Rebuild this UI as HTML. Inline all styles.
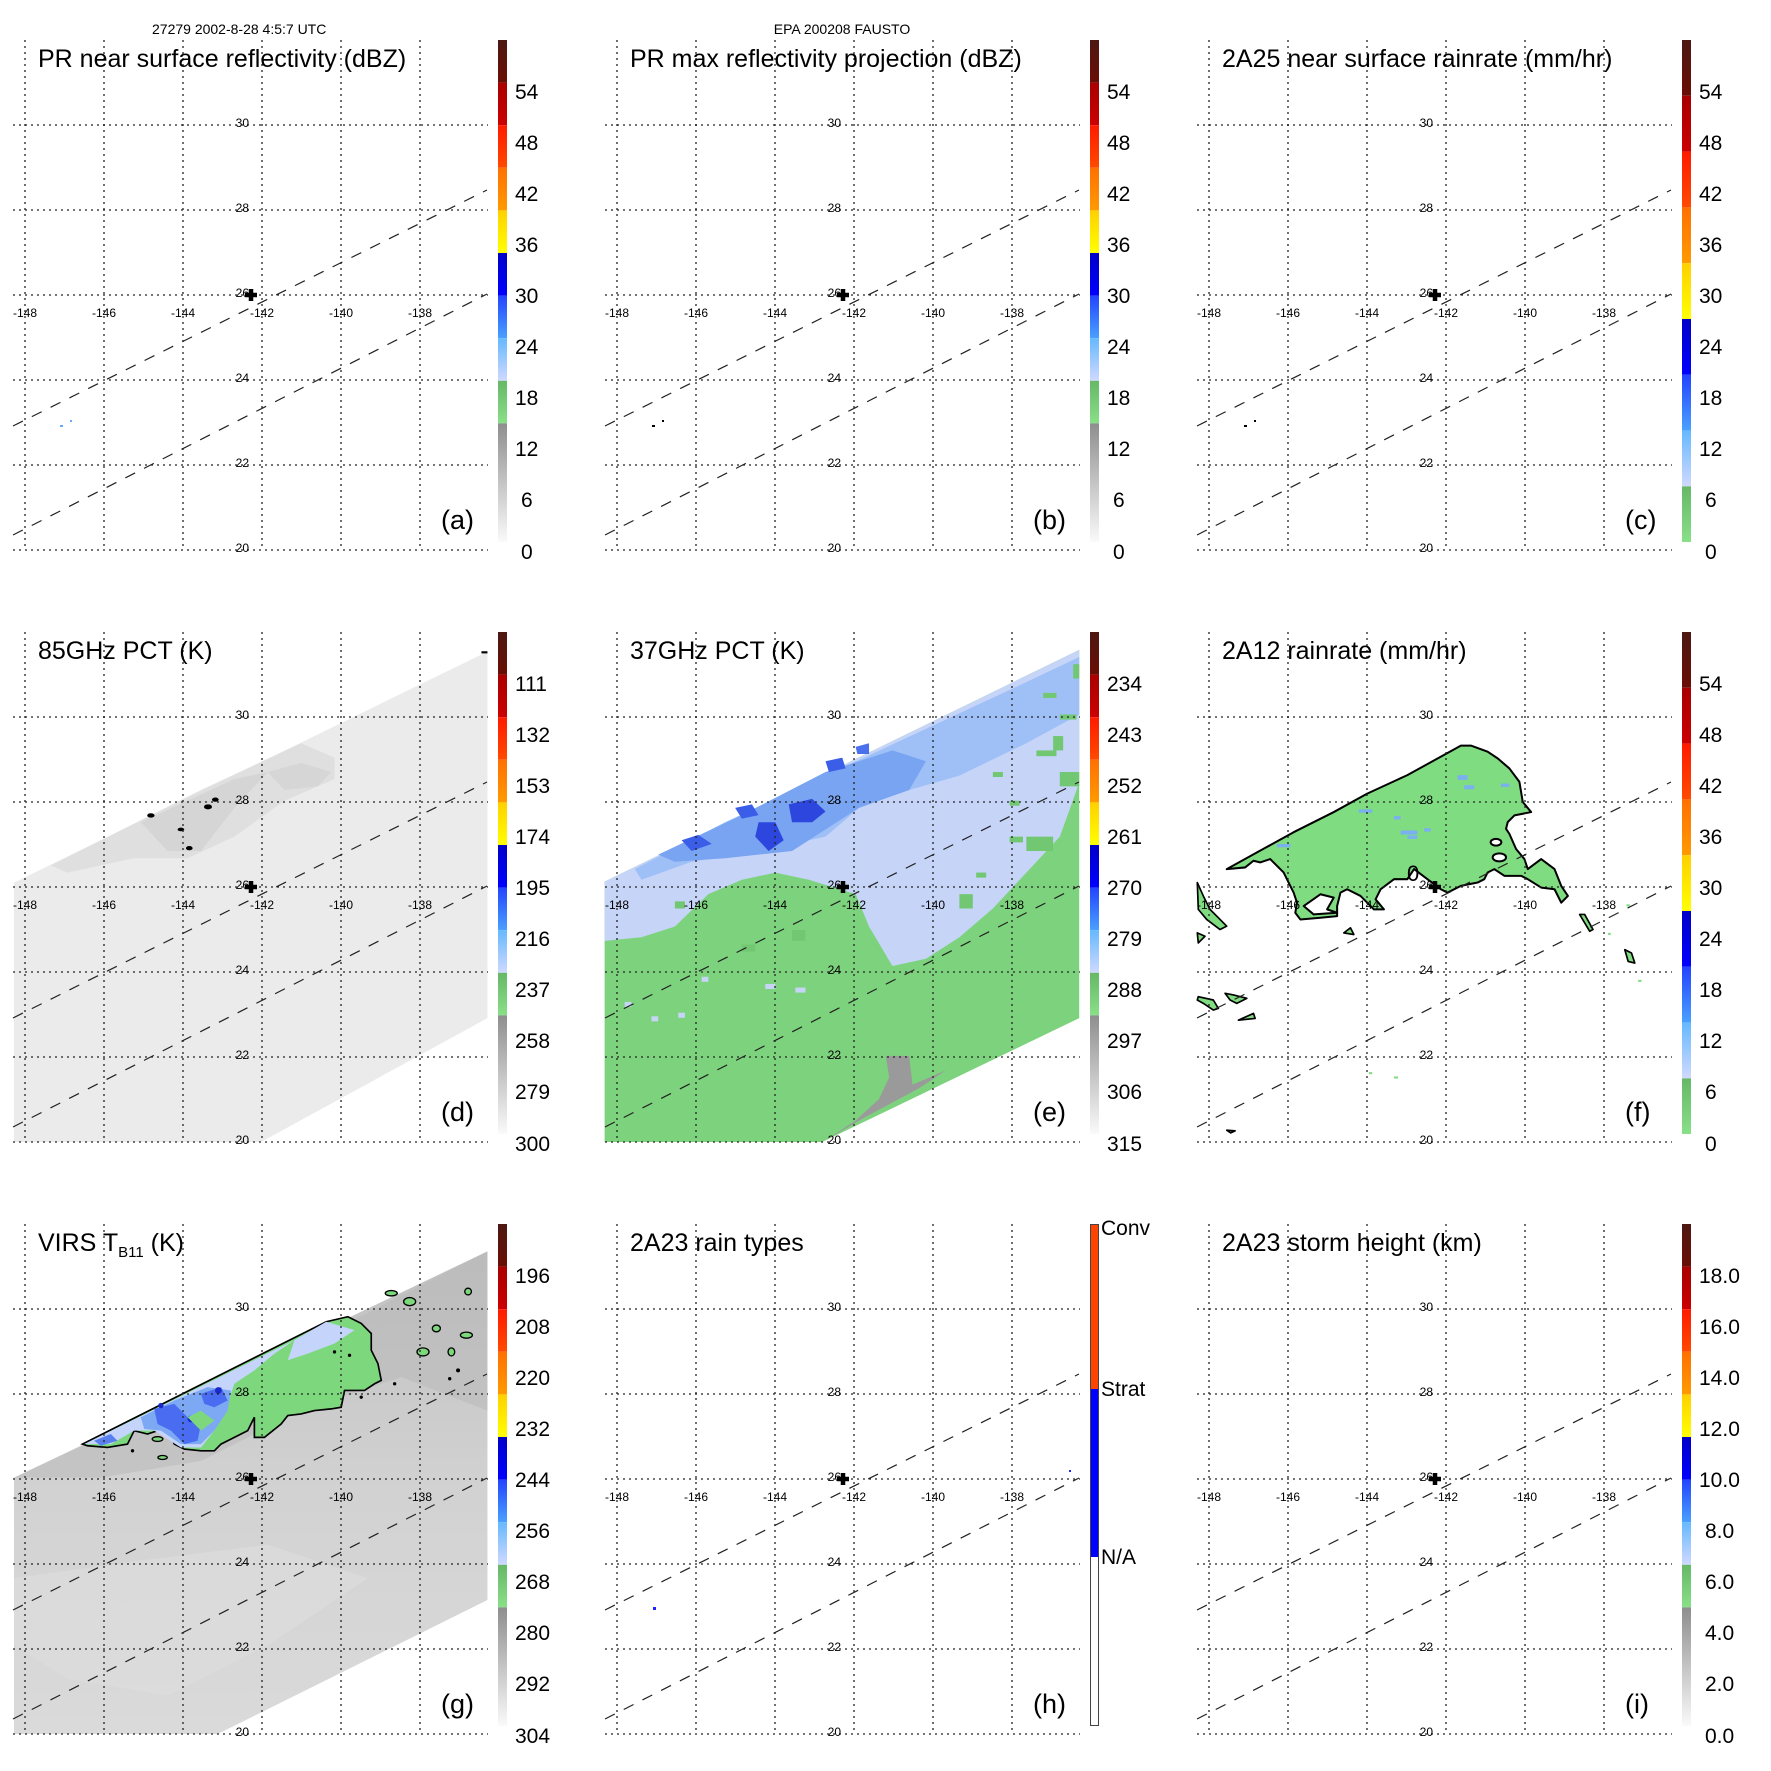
<!DOCTYPE html>
<html><head><meta charset="utf-8"><style>
html,body{margin:0;padding:0;background:#fff;}
svg{display:block;font-family:"Liberation Sans",Arial,sans-serif;}
.t{font-size:25px;fill:#000}
.cl{font-size:21px;fill:#000}
.gl{font-size:12px;fill:#000}
.pl{font-size:27px;fill:#000}
</style></head><body>
<svg width="1771" height="1771" viewBox="0 0 1771 1771" xmlns="http://www.w3.org/2000/svg">
<defs>
<linearGradient id="gBr" x1="0" y1="0" x2="0" y2="1"><stop offset="0" stop-color="#4d1812"/><stop offset="1" stop-color="#6a0e05"/></linearGradient>
<linearGradient id="gDr" x1="0" y1="0" x2="0" y2="1"><stop offset="0" stop-color="#a80000"/><stop offset="1" stop-color="#cc0000"/></linearGradient>
<linearGradient id="gRd" x1="0" y1="0" x2="0" y2="1"><stop offset="0" stop-color="#ff1a00"/><stop offset="1" stop-color="#ff4a00"/></linearGradient>
<linearGradient id="gOr" x1="0" y1="0" x2="0" y2="1"><stop offset="0" stop-color="#ff7000"/><stop offset="1" stop-color="#ff9a00"/></linearGradient>
<linearGradient id="gYe" x1="0" y1="0" x2="0" y2="1"><stop offset="0" stop-color="#ffd000"/><stop offset="1" stop-color="#ffff00"/></linearGradient>
<linearGradient id="gBl" x1="0" y1="0" x2="0" y2="1"><stop offset="0" stop-color="#0000c8"/><stop offset="1" stop-color="#0000ff"/></linearGradient>
<linearGradient id="gMb" x1="0" y1="0" x2="0" y2="1"><stop offset="0" stop-color="#2244ff"/><stop offset="1" stop-color="#4aa0ff"/></linearGradient>
<linearGradient id="gLb" x1="0" y1="0" x2="0" y2="1"><stop offset="0" stop-color="#66b8ff"/><stop offset="1" stop-color="#cfd9ff"/></linearGradient>
<linearGradient id="gGr" x1="0" y1="0" x2="0" y2="1"><stop offset="0" stop-color="#66b866"/><stop offset="1" stop-color="#88e088"/></linearGradient>
<linearGradient id="gGy" x1="0" y1="0" x2="0" y2="1"><stop offset="0" stop-color="#8e8e8e"/><stop offset="1" stop-color="#fafafa"/></linearGradient>
<linearGradient id="gSw" x1="0" y1="0" x2="0" y2="1"><stop offset="0" stop-color="#c0c0c0"/><stop offset="0.5" stop-color="#d2d2d2"/><stop offset="1" stop-color="#dadada"/></linearGradient>

<g id="grid" fill="none" stroke="#222" stroke-width="1.3" stroke-dasharray="2 4">
<path d="M25 40V550M104 40V550M183 40V550M262 40V550M341 40V550M420 40V550"/>
<path d="M13 125H488M13 210H488M13 295H488M13 380H488M13 465H488M13 550H488"/>
</g>
<g id="dash" fill="none" stroke="#222" stroke-width="1.2" stroke-dasharray="11 10">
<path d="M13 426L487 190M13 535L487 294"/>
</g>
<path id="cross" d="M245 295H257M251 289V301" stroke="#000" stroke-width="4.5" fill="none"/>
<g id="cb12">
<rect x="498" y="40" width="9" height="42.6" fill="url(#gBr)"/>
<rect x="498" y="82.6" width="9" height="42.6" fill="url(#gDr)"/>
<rect x="498" y="125.2" width="9" height="42.6" fill="url(#gRd)"/>
<rect x="498" y="167.8" width="9" height="42.6" fill="url(#gOr)"/>
<rect x="498" y="210.4" width="9" height="42.6" fill="url(#gYe)"/>
<rect x="498" y="253" width="9" height="42.6" fill="url(#gBl)"/>
<rect x="498" y="295.6" width="9" height="42.6" fill="url(#gMb)"/>
<rect x="498" y="338.2" width="9" height="42.6" fill="url(#gLb)"/>
<rect x="498" y="380.8" width="9" height="42.6" fill="url(#gGr)"/>
<rect x="498" y="423.4" width="9" height="118.6" fill="url(#gGy)"/>
</g>
<g id="cb9">
<rect x="498" y="40" width="9" height="55.8" fill="url(#gBr)"/>
<rect x="498" y="95.8" width="9" height="55.8" fill="url(#gDr)"/>
<rect x="498" y="151.6" width="9" height="55.8" fill="url(#gRd)"/>
<rect x="498" y="207.4" width="9" height="55.8" fill="url(#gOr)"/>
<rect x="498" y="263.2" width="9" height="55.8" fill="url(#gYe)"/>
<rect x="498" y="319" width="9" height="55.8" fill="url(#gBl)"/>
<rect x="498" y="374.8" width="9" height="55.8" fill="url(#gMb)"/>
<rect x="498" y="430.6" width="9" height="55.8" fill="url(#gLb)"/>
<rect x="498" y="486.4" width="9" height="55.6" fill="url(#gGr)"/>
</g>
</defs>

<text x="152" y="34" font-size="14">27279 2002-8-28 4:5:7 UTC</text>
<text x="842" y="34" font-size="14" text-anchor="middle">EPA 200208 FAUSTO</text>

<!-- ============ PANEL A ============ -->
<g transform="translate(0,0)">
<rect x="60" y="425" width="3" height="2" fill="#66aaff"/><rect x="70" y="420" width="2" height="2" fill="#66aaff"/>
<use href="#grid"/><use href="#dash"/><use href="#cross"/><use href="#cb12"/>
<text class="t" x="38" y="67">PR near surface reflectivity (dBZ)</text>
<text class="pl" x="441" y="529">(a)</text>
</g>
<!-- ============ PANEL B ============ -->
<g transform="translate(592,0)">
<rect x="60" y="425" width="3" height="2" fill="#000"/><rect x="70" y="420" width="2" height="2" fill="#000"/>
<use href="#grid"/><use href="#dash"/><use href="#cross"/><use href="#cb12"/>
<text class="t" x="38" y="67">PR max reflectivity projection (dBZ)</text>
<text class="pl" x="441" y="529">(b)</text>
</g>
<!-- ============ PANEL C ============ -->
<g transform="translate(1184,0)">
<rect x="60" y="425" width="3" height="2" fill="#000"/><rect x="70" y="420" width="2" height="2" fill="#000"/>
<use href="#grid"/><use href="#dash"/><use href="#cross"/><use href="#cb9"/>
<text class="t" x="38" y="67">2A25 near surface rainrate (mm/hr)</text>
<text class="pl" x="441" y="529">(c)</text>
</g>
<!-- ============ PANEL D ============ -->
<g transform="translate(0,592)">
<g transform="matrix(0.3339,0,0,0.3593,0.62,29.07)">
<polygon points="40,728 1458,85 1458,1105 780,1450 40,1450" fill="#ebebeb"/>
<polygon points="150,680 600,470 900,340 1000,380 1000,440 850,500 700,600 560,660 400,660 200,700" fill="#dcdcdc" opacity="0.8"/>
<polygon points="420,560 700,440 800,420 700,520 600,640 500,640" fill="#d0d0d0" opacity="0.7"/>
<polygon points="800,420 900,395 990,420 950,460 850,470" fill="#d3d3d3" opacity="0.8"/>
<ellipse cx="450" cy="541" rx="11" ry="6" fill="#000"/>
<ellipse cx="540" cy="580" rx="10" ry="5" fill="#000"/>
<ellipse cx="565" cy="632" rx="10" ry="6" fill="#000"/>
<ellipse cx="621" cy="517" rx="12" ry="7" fill="#000"/>
<ellipse cx="643" cy="497" rx="10" ry="6" fill="#000"/>
<rect x="1440" y="84" width="18" height="6" fill="#000"/>
</g>
<use href="#grid"/><use href="#dash"/><use href="#cross"/><use href="#cb12"/>
<text class="t" x="38" y="67">85GHz PCT (K)</text>
<text class="pl" x="441" y="529">(d)</text>
</g>
<!-- ============ PANEL E ============ -->
<g transform="translate(592,592)">
<g transform="matrix(0.3347,0,0,0.3593,-0.77,29.07)">
<polygon points="40,725 1458,80 1458,1105 690,1450 40,1450" fill="#7dd37d"/>
<polygon points="40,725 1458,80 1458,450 1400,600 1300,700 1200,800 1100,880 1000,940 900,960 830,850 790,760 720,740 650,720 550,700 450,720 350,760 250,850 150,880 40,890" fill="#c6d4f8"/>
<polygon points="130,690 400,560 700,430 1000,300 1300,170 1458,100 1458,260 1300,340 1100,430 950,470 800,520 700,600 500,640 300,670 150,720" fill="#9ec0f6"/>
<polygon points="200,650 450,540 700,420 900,360 1000,390 950,470 800,520 700,580 600,640 400,660 250,670" fill="#78a4f2"/>
<polygon points="270,610 320,595 360,620 300,640" fill="#3a5ee8"/>
<polygon points="430,520 480,510 500,540 450,550" fill="#3a5ee8"/>
<polygon points="500,560 550,560 575,610 530,640 490,600" fill="#2d46dd"/>
<polygon points="590,510 660,495 700,530 660,560 600,560" fill="#2d46dd"/>
<polygon points="700,390 750,380 760,410 710,420" fill="#3a5ee8"/>
<polygon points="790,350 830,340 830,370 795,370" fill="#4a70ee"/>
<polygon points="880,1210 950,1210 960,1290 1060,1250 980,1300 900,1340 820,1380 700,1445 790,1390 860,1330 890,1270" fill="#9a9a9a"/>
<g fill="#72c872">
<rect x="1350" y="200" width="40" height="14"/><rect x="1400" y="260" width="50" height="14"/><rect x="1330" y="360" width="60" height="16"/>
<rect x="1250" y="600" width="40" height="16"/><rect x="1380" y="320" width="30" height="40"/><rect x="1200" y="420" width="30" height="14"/>
<rect x="1150" y="700" width="30" height="14"/><rect x="1300" y="600" width="80" height="40"/><rect x="1100" y="760" width="40" height="40"/>
<rect x="1400" y="420" width="58" height="40"/><rect x="1250" y="500" width="30" height="14"/><rect x="1440" y="120" width="18" height="40"/>
<rect x="450" y="900" width="40" height="20"/><rect x="250" y="780" width="30" height="20"/><rect x="600" y="860" width="40" height="30"/>
</g>
<g fill="#c6d4f8">
<rect x="180" y="1100" width="20" height="14"/><rect x="260" y="1090" width="20" height="14"/><rect x="520" y="1010" width="30" height="14"/>
<rect x="610" y="1020" width="30" height="14"/><rect x="330" y="990" width="20" height="14"/><rect x="100" y="1060" width="20" height="14"/>
</g>
</g>
<use href="#grid"/><use href="#dash"/><use href="#cross"/><use href="#cb12"/>
<text class="t" x="38" y="67">37GHz PCT (K)</text>
<text class="pl" x="441" y="529">(e)</text>
</g>
<!-- ============ PANEL F ============ -->
<g transform="translate(1184,592)">
<g transform="matrix(0.3345,0,0,0.3356,9.28,129.45)" stroke="#000" stroke-width="6" stroke-linejoin="round">
<polygon fill="#80dc80" points="100,440 200,385 300,330 420,270 520,215 640,160 800,72 830,72 880,90 910,110 945,140 975,180 985,240 1010,270 960,280 940,300 935,320 945,335 965,380 990,410 1000,440 1040,410 1080,440 1100,490 1120,520 1100,540 1080,500 1040,495 1000,470 980,460 930,460 900,440 880,450 870,470 850,480 800,490 760,510 740,500 700,470 660,440 640,470 600,470 560,500 545,530 570,560 540,560 520,540 500,520 460,500 440,510 430,550 430,580 380,585 320,590 305,570 310,540 300,510 270,450 240,420 230,410 200,420 180,415 155,435"/>
<polygon fill="#fff" points="330,550 380,515 420,525 400,560 430,570 360,575"/>
<ellipse cx="905" cy="360" rx="16" ry="10" fill="#fff"/>
<ellipse cx="915" cy="405" rx="20" ry="12" fill="#fff"/>
<g fill="#80dc80" stroke-width="5">
<polygon points="12,480 30,520 50,560 80,590 100,610 80,620 40,590 15,560"/>
<polygon points="12,630 35,640 15,660"/>
<polygon points="15,820 60,830 75,855 60,860 30,840 12,830"/>
<polygon points="95,810 120,815 160,825 130,840 110,830"/>
<polygon points="135,890 180,870 185,885"/>
<polygon points="1155,575 1170,575 1195,620 1185,625"/>
<polygon points="1290,680 1310,690 1320,720 1300,715"/>
<polygon points="450,630 470,615 480,635"/>
<polygon points="100,1218 125,1220 112,1226"/>
</g>
<g stroke="none" fill="#7ab0f0">
<rect x="790" y="160" width="30" height="14"/><rect x="810" y="190" width="30" height="12"/><rect x="620" y="325" width="50" height="12"/>
<rect x="640" y="340" width="30" height="10"/><rect x="495" y="262" width="40" height="10"/><rect x="600" y="282" width="20" height="10"/>
<rect x="920" y="185" width="25" height="10"/><rect x="250" y="365" width="40" height="10"/><rect x="690" y="318" width="20" height="10"/>
</g>
<g stroke="none" fill="#80dc80"><rect x="1240" y="630" width="8" height="6"/><rect x="1330" y="770" width="10" height="6"/><rect x="525" y="1045" width="10" height="6"/><rect x="600" y="1058" width="12" height="6"/><rect x="1295" y="545" width="10" height="6"/></g>
</g>
<text x="223" y="289" font-size="22">0</text>
<use href="#grid"/><use href="#dash"/><use href="#cross"/><use href="#cb9"/>
<text class="t" x="38" y="67">2A12 rainrate (mm/hr)</text>
<text class="pl" x="441" y="529">(f)</text>
</g>
<!-- ============ PANEL G ============ -->
<g transform="translate(0,1184)">
<g transform="matrix(0.3339,0,0,0.3352,0.62,58.97)">
<polygon points="40,700 1458,25 1458,1065 650,1465 40,1465" fill="url(#gSw)"/>
<polygon points="40,1000 400,950 800,900 1100,1000 800,1200 500,1350 200,1300 40,1200" fill="#dedede" opacity="0.6"/>
<polygon points="40,700 600,440 1000,260 1458,25 1458,500 1200,400 900,500 600,650 300,700" fill="#b8b8b8" opacity="0.5"/>
<polygon fill="#7dd87d" stroke="#000" stroke-width="5" points="245,600 975,235 1040,220 1080,240 1110,270 1110,320 1130,360 1140,410 1120,420 1090,440 1060,440 1030,440 1020,490 990,495 940,500 900,510 860,515 840,540 790,580 760,580 760,520 740,560 700,580 660,600 640,620 600,620 550,615 520,600 510,570 470,560 440,570 400,560 380,600 320,610 260,605"/>
<polygon fill="#c4d4fa" points="250,600 880,290 820,330 760,380 700,420 680,480 640,560 600,610 540,610 460,560 400,560 330,600"/>
<polygon fill="#c4d4fa" points="880,290 975,235 1060,260 1000,300 920,330 860,350"/>
<polygon fill="#7da8f4" points="420,520 520,470 620,430 690,440 680,500 640,560 600,600 540,600 480,560 430,555"/>
<polygon fill="#4a6cf0" points="460,495 520,480 560,520 600,540 590,590 550,600 510,560 470,540"/>
<polygon fill="#4a6cf0" points="600,450 660,430 680,470 640,490 610,480"/>
<polygon fill="#5a80f0" points="280,590 330,570 350,590 300,605"/>
<circle cx="652" cy="440" r="10" fill="#1a28c8"/><circle cx="570" cy="525" r="10" fill="#1a28c8"/><circle cx="480" cy="485" r="8" fill="#1a28c8"/>
<polygon fill="#7dd87d" points="560,520 600,500 640,530 600,560"/>
<g fill="#7dd87d" stroke="#000" stroke-width="4">
<ellipse cx="1225" cy="175" rx="18" ry="12"/><ellipse cx="1305" cy="255" rx="12" ry="10"/><ellipse cx="1395" cy="275" rx="18" ry="9"/>
<ellipse cx="1265" cy="325" rx="18" ry="12"/><ellipse cx="1400" cy="145" rx="10" ry="10"/><ellipse cx="1170" cy="150" rx="18" ry="8"/>
<ellipse cx="470" cy="585" rx="16" ry="7"/><ellipse cx="485" cy="640" rx="14" ry="6"/><ellipse cx="1350" cy="325" rx="10" ry="12"/>
</g>
<g fill="#000"><circle cx="1000" cy="325" r="5"/><circle cx="1045" cy="335" r="5"/><circle cx="1370" cy="380" r="6"/><circle cx="1345" cy="405" r="5"/><circle cx="1180" cy="420" r="5"/><circle cx="1080" cy="460" r="5"/><circle cx="395" cy="620" r="5"/></g>
</g>
<use href="#grid"/><use href="#dash"/><use href="#cross"/><use href="#cb12"/>
<text class="t" x="38" y="67">VIRS T<tspan font-size="15" dy="6">B11</tspan><tspan dy="-6"> (K)</tspan></text>
<text class="pl" x="441" y="529">(g)</text>
</g>
<!-- ============ PANEL H ============ -->
<g transform="translate(592,1184)">
<rect x="61" y="423" width="3" height="3" fill="#22f"/><rect x="477" y="286" width="2" height="2" fill="#22f"/>
<use href="#grid"/><use href="#dash"/><use href="#cross"/>
<rect x="498" y="40" width="9" height="165" fill="#ff4400"/>
<rect x="498" y="205" width="9" height="168" fill="#0000ff"/>
<rect x="498.5" y="40.5" width="8" height="501" fill="none" stroke="#444" stroke-width="1"/>
<text class="cl" x="509" y="51" font-size="19">Conv</text>
<text class="cl" x="509" y="212" font-size="19">Strat</text>
<text class="cl" x="509" y="380" font-size="19">N/A</text>
<text class="t" x="38" y="67">2A23 rain types</text>
<text class="pl" x="441" y="529">(h)</text>
</g>
<!-- ============ PANEL I ============ -->
<g transform="translate(1184,1184)">
<use href="#grid"/><use href="#dash"/><use href="#cross"/><use href="#cb12"/>
<text class="t" x="38" y="67">2A23 storm height (km)</text>
<text class="pl" x="441" y="529">(i)</text>
</g>

<!-- grid labels for all panels -->
<g font-size="12">
<g transform="translate(0,0)"><g text-anchor="end"><text x="249" y="127">30</text><text x="249" y="212">28</text><text x="249" y="297">26</text><text x="249" y="382">24</text><text x="249" y="467">22</text><text x="249" y="552">20</text></g><g text-anchor="middle"><text x="25" y="317">-148</text><text x="104" y="317">-146</text><text x="183" y="317">-144</text><text x="262" y="317">-142</text><text x="341" y="317">-140</text><text x="420" y="317">-138</text></g></g>
<g transform="translate(592,0)"><g text-anchor="end"><text x="249" y="127">30</text><text x="249" y="212">28</text><text x="249" y="297">26</text><text x="249" y="382">24</text><text x="249" y="467">22</text><text x="249" y="552">20</text></g><g text-anchor="middle"><text x="25" y="317">-148</text><text x="104" y="317">-146</text><text x="183" y="317">-144</text><text x="262" y="317">-142</text><text x="341" y="317">-140</text><text x="420" y="317">-138</text></g></g>
<g transform="translate(1184,0)"><g text-anchor="end"><text x="249" y="127">30</text><text x="249" y="212">28</text><text x="249" y="297">26</text><text x="249" y="382">24</text><text x="249" y="467">22</text><text x="249" y="552">20</text></g><g text-anchor="middle"><text x="25" y="317">-148</text><text x="104" y="317">-146</text><text x="183" y="317">-144</text><text x="262" y="317">-142</text><text x="341" y="317">-140</text><text x="420" y="317">-138</text></g></g>
<g transform="translate(0,592)"><g text-anchor="end"><text x="249" y="127">30</text><text x="249" y="212">28</text><text x="249" y="297">26</text><text x="249" y="382">24</text><text x="249" y="467">22</text><text x="249" y="552">20</text></g><g text-anchor="middle"><text x="25" y="317">-148</text><text x="104" y="317">-146</text><text x="183" y="317">-144</text><text x="262" y="317">-142</text><text x="341" y="317">-140</text><text x="420" y="317">-138</text></g></g>
<g transform="translate(592,592)"><g text-anchor="end"><text x="249" y="127">30</text><text x="249" y="212">28</text><text x="249" y="297">26</text><text x="249" y="382">24</text><text x="249" y="467">22</text><text x="249" y="552">20</text></g><g text-anchor="middle"><text x="25" y="317">-148</text><text x="104" y="317">-146</text><text x="183" y="317">-144</text><text x="262" y="317">-142</text><text x="341" y="317">-140</text><text x="420" y="317">-138</text></g></g>
<g transform="translate(1184,592)"><g text-anchor="end"><text x="249" y="127">30</text><text x="249" y="212">28</text><text x="249" y="297">26</text><text x="249" y="382">24</text><text x="249" y="467">22</text><text x="249" y="552">20</text></g><g text-anchor="middle"><text x="25" y="317">-148</text><text x="104" y="317">-146</text><text x="183" y="317">-144</text><text x="262" y="317">-142</text><text x="341" y="317">-140</text><text x="420" y="317">-138</text></g></g>
<g transform="translate(0,1184)"><g text-anchor="end"><text x="249" y="127">30</text><text x="249" y="212">28</text><text x="249" y="297">26</text><text x="249" y="382">24</text><text x="249" y="467">22</text><text x="249" y="552">20</text></g><g text-anchor="middle"><text x="25" y="317">-148</text><text x="104" y="317">-146</text><text x="183" y="317">-144</text><text x="262" y="317">-142</text><text x="341" y="317">-140</text><text x="420" y="317">-138</text></g></g>
<g transform="translate(592,1184)"><g text-anchor="end"><text x="249" y="127">30</text><text x="249" y="212">28</text><text x="249" y="297">26</text><text x="249" y="382">24</text><text x="249" y="467">22</text><text x="249" y="552">20</text></g><g text-anchor="middle"><text x="25" y="317">-148</text><text x="104" y="317">-146</text><text x="183" y="317">-144</text><text x="262" y="317">-142</text><text x="341" y="317">-140</text><text x="420" y="317">-138</text></g></g>
<g transform="translate(1184,1184)"><g text-anchor="end"><text x="249" y="127">30</text><text x="249" y="212">28</text><text x="249" y="297">26</text><text x="249" y="382">24</text><text x="249" y="467">22</text><text x="249" y="552">20</text></g><g text-anchor="middle"><text x="25" y="317">-148</text><text x="104" y="317">-146</text><text x="183" y="317">-144</text><text x="262" y="317">-142</text><text x="341" y="317">-140</text><text x="420" y="317">-138</text></g></g>
</g>

<!-- colorbar labels -->
<g class="cl" font-size="21">
<g transform="translate(0,0)"><text x="515" y="99">54</text><text x="515" y="150">48</text><text x="515" y="201">42</text><text x="515" y="252">36</text><text x="515" y="303">30</text><text x="515" y="354">24</text><text x="515" y="405">18</text><text x="515" y="456">12</text><text x="521" y="507">6</text><text x="521" y="559">0</text></g>
<g transform="translate(592,0)"><text x="515" y="99">54</text><text x="515" y="150">48</text><text x="515" y="201">42</text><text x="515" y="252">36</text><text x="515" y="303">30</text><text x="515" y="354">24</text><text x="515" y="405">18</text><text x="515" y="456">12</text><text x="521" y="507">6</text><text x="521" y="559">0</text></g>
<g transform="translate(1184,0)"><text x="515" y="99">54</text><text x="515" y="150">48</text><text x="515" y="201">42</text><text x="515" y="252">36</text><text x="515" y="303">30</text><text x="515" y="354">24</text><text x="515" y="405">18</text><text x="515" y="456">12</text><text x="521" y="507">6</text><text x="521" y="559">0</text></g>
<g transform="translate(0,592)"><text x="515" y="99">111</text><text x="515" y="150">132</text><text x="515" y="201">153</text><text x="515" y="252">174</text><text x="515" y="303">195</text><text x="515" y="354">216</text><text x="515" y="405">237</text><text x="515" y="456">258</text><text x="515" y="507">279</text><text x="515" y="559">300</text></g>
<g transform="translate(592,592)"><text x="515" y="99">234</text><text x="515" y="150">243</text><text x="515" y="201">252</text><text x="515" y="252">261</text><text x="515" y="303">270</text><text x="515" y="354">279</text><text x="515" y="405">288</text><text x="515" y="456">297</text><text x="515" y="507">306</text><text x="515" y="559">315</text></g>
<g transform="translate(1184,592)"><text x="515" y="99">54</text><text x="515" y="150">48</text><text x="515" y="201">42</text><text x="515" y="252">36</text><text x="515" y="303">30</text><text x="515" y="354">24</text><text x="515" y="405">18</text><text x="515" y="456">12</text><text x="521" y="507">6</text><text x="521" y="559">0</text></g>
<g transform="translate(0,1184)"><text x="515" y="99">196</text><text x="515" y="150">208</text><text x="515" y="201">220</text><text x="515" y="252">232</text><text x="515" y="303">244</text><text x="515" y="354">256</text><text x="515" y="405">268</text><text x="515" y="456">280</text><text x="515" y="507">292</text><text x="515" y="559">304</text></g>
<g transform="translate(1184,1184)"><text x="515" y="99">18.0</text><text x="515" y="150">16.0</text><text x="515" y="201">14.0</text><text x="515" y="252">12.0</text><text x="515" y="303">10.0</text><text x="521" y="354">8.0</text><text x="521" y="405">6.0</text><text x="521" y="456">4.0</text><text x="521" y="507">2.0</text><text x="521" y="559">0.0</text></g>
</g>
</svg>
</body></html>
